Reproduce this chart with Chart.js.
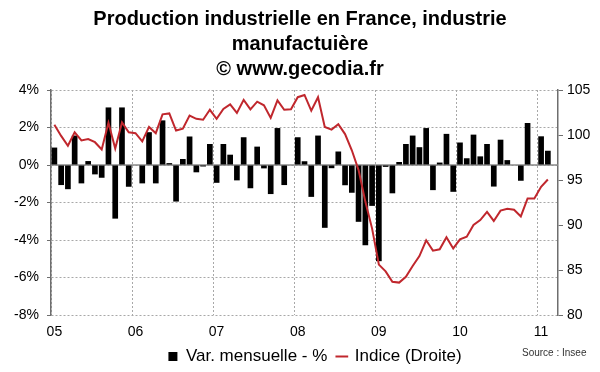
<!DOCTYPE html>
<html>
<head>
<meta charset="utf-8">
<script src="https://cdn.jsdelivr.net/npm/chart.js@4/dist/chart.umd.min.js"></script>
<style>
  body { margin: 0; background: #fff; }
  #wrap { position: relative; width: 600px; height: 372px; }
  #source { position: absolute; left: 522px; top: 347px; font: 10px "Liberation Sans", Arial, sans-serif; color: #333; }
</style>
</head>
<body>
<div id="wrap">
  <canvas id="chart" width="600" height="372"></canvas>
  <div id="source">Source : Insee</div>
</div>
<script>
// Years on the x axis (Jan 2005 .. Mar 2011, monthly)
const years = ['05', '06', '07', '08', '09', '10', '11'];

// Monthly change, % (left axis)
const varMensuelle = [
    0.93, -1.07, -1.29, 1.57, -0.98, 0.21, -0.5, -0.68, 3.07, -2.86, 3.07, -1.16,
    0.0, -0.98, 1.75, -0.98, 2.38, 0.1, -1.95, 0.32, 1.52, -0.39, -0.08, 1.12,
    -0.95, 1.12, 0.55, -0.82, 1.48, -1.24, 0.98, -0.18, -1.55, 1.97, -1.07, 0.0,
    1.48, 0.2, -1.7, 1.57, -3.35, -0.17, 0.72, -1.08, -1.48, -3.03, -4.28, -2.18,
    -5.13, -0.1, -1.51, 0.16, 1.12, 1.57, 0.95, 1.97, -1.34, 0.13, 1.66, -1.43,
    1.2, 0.36, 1.62, 0.46, 1.12, -1.15, 1.35, 0.26, 0.0, -0.84, 2.24, 0.0,
    1.53, 0.76, null
];

// Production index (right axis)
const indice = [
    101.15, 99.9, 98.8, 100.3, 99.4, 99.55, 99.2, 98.4, 101.35, 98.5, 101.4, 100.3,
    100.2, 99.3, 100.9, 100.2, 102.3, 102.4, 100.5, 100.7, 102.15, 101.8, 101.7, 102.8,
    101.8, 102.9, 103.4, 102.45, 103.9, 102.85, 103.7, 103.3, 101.9, 103.85, 102.8, 102.85,
    104.2, 104.45, 102.7, 104.2, 100.9, 100.6, 101.2, 100.1, 98.3, 96.1, 92.6, 89.6,
    85.6, 84.85, 83.7, 83.6, 84.25, 85.45, 86.55, 88.3, 87.15, 87.3, 88.65, 87.4,
    88.4, 88.7, 90.0, 90.55, 91.45, 90.45, 91.6, 91.8, 91.7, 90.95, 92.95, 92.95,
    94.25, 95.05, null
];

const months = [];
years.forEach((y, i) => {
    const n = i === years.length - 1 ? 3 : 12;
    for (let m = 1; m <= n; m++) months.push(y + '-' + m);
});

const FONT = '"Liberation Sans", Arial, sans-serif';
const gridGray = '#a8a8a8';
const axisGray = '#6e6e6e';

// solid line at 0% (the category axis crosses there)
const zeroLine = {
    id: 'zeroLine',
    afterLayout(chart) {
        // legend sits a bit right of centre in the original
        chart.legend.left += 15;
        chart.legend.right += 15;
    },
    beforeDatasetsDraw(chart) {
        const y = chart.scales.y.getPixelForValue(0);
        const {left, right} = chart.chartArea;
        const ctx = chart.ctx;
        ctx.save();
        ctx.strokeStyle = '#8a8a8a';
        ctx.lineWidth = 1.5;
        ctx.beginPath();
        ctx.moveTo(left, y);
        ctx.lineTo(right, y);
        ctx.stroke();
        ctx.restore();
    }
};

new Chart(document.getElementById('chart').getContext('2d'), {
    type: 'bar',
    data: {
        labels: months,
        datasets: [
            {
                type: 'bar',
                label: 'Var. mensuelle - %',
                data: varMensuelle,
                backgroundColor: '#000',
                borderWidth: 0,
                barPercentage: 0.84,
                categoryPercentage: 1,
                yAxisID: 'y',
                pointStyle: 'rect',
                order: 1
            },
            {
                type: 'line',
                label: 'Indice (Droite)',
                data: indice,
                borderColor: '#c0272d',
                backgroundColor: '#c0272d',
                borderWidth: 2,
                pointRadius: 0,
                tension: 0,
                yAxisID: 'y1',
                pointStyle: 'line',
                order: 0
            }
        ]
    },
    options: {
        responsive: false,
        animation: false,
        layout: { padding: { left: 0, right: 0, top: 0, bottom: -3 } },
        plugins: {
            title: {
                display: true,
                text: ['Production industrielle en France, industrie', 'manufactuière', '\u00a9 www.gecodia.fr'],
                color: '#000',
                font: { family: FONT, size: 20, weight: 'bold', lineHeight: 1.25 },
                padding: { top: 7, bottom: 8 }
            },
            legend: {
                position: 'bottom',
                labels: {
                    color: '#000',
                    font: { family: FONT, size: 17 },
                    usePointStyle: true,
                    boxWidth: 9,
                    boxHeight: 9,
                    padding: 10,
                    sort: (a, b) => a.datasetIndex - b.datasetIndex
                }
            },
            tooltip: { enabled: false }
        },
        scales: {
            x: {
                offset: true,
                afterFit: s => { s.height = 23; },
                grid: {
                    offset: true,
                    drawTicks: false,
                    color: ctx => ctx.index % 12 === 0 ? gridGray : 'rgba(0,0,0,0)'
                },
                border: { display: false, dash: [2, 2] },
                ticks: {
                    autoSkip: false,
                    maxRotation: 0,
                    padding: 9,
                    color: '#000',
                    font: { family: FONT, size: 14 },
                    callback: (v, i) => i % 12 === 0 ? years[i / 12] : ''
                }
            },
            y: {
                position: 'left',
                min: -8,
                max: 4,
                afterFit: s => { s.width = 51; },
                grid: { color: gridGray, tickColor: axisGray, tickLength: 4 },
                border: { display: true, color: axisGray, width: 1.5, dash: [2, 2] },
                ticks: {
                    stepSize: 2,
                    padding: 8,
                    color: '#000',
                    font: { family: FONT, size: 14 },
                    callback: v => v + '%'
                }
            },
            y1: {
                position: 'right',
                min: 80,
                max: 105,
                afterFit: s => { s.width = 42; },
                grid: { drawOnChartArea: false, tickColor: axisGray, tickLength: 5 },
                border: { display: true, color: axisGray, width: 1.5 },
                ticks: {
                    stepSize: 5,
                    padding: 4,
                    color: '#000',
                    font: { family: FONT, size: 14 }
                }
            }
        }
    },
    plugins: [zeroLine]
});
</script>
</body>
</html>
